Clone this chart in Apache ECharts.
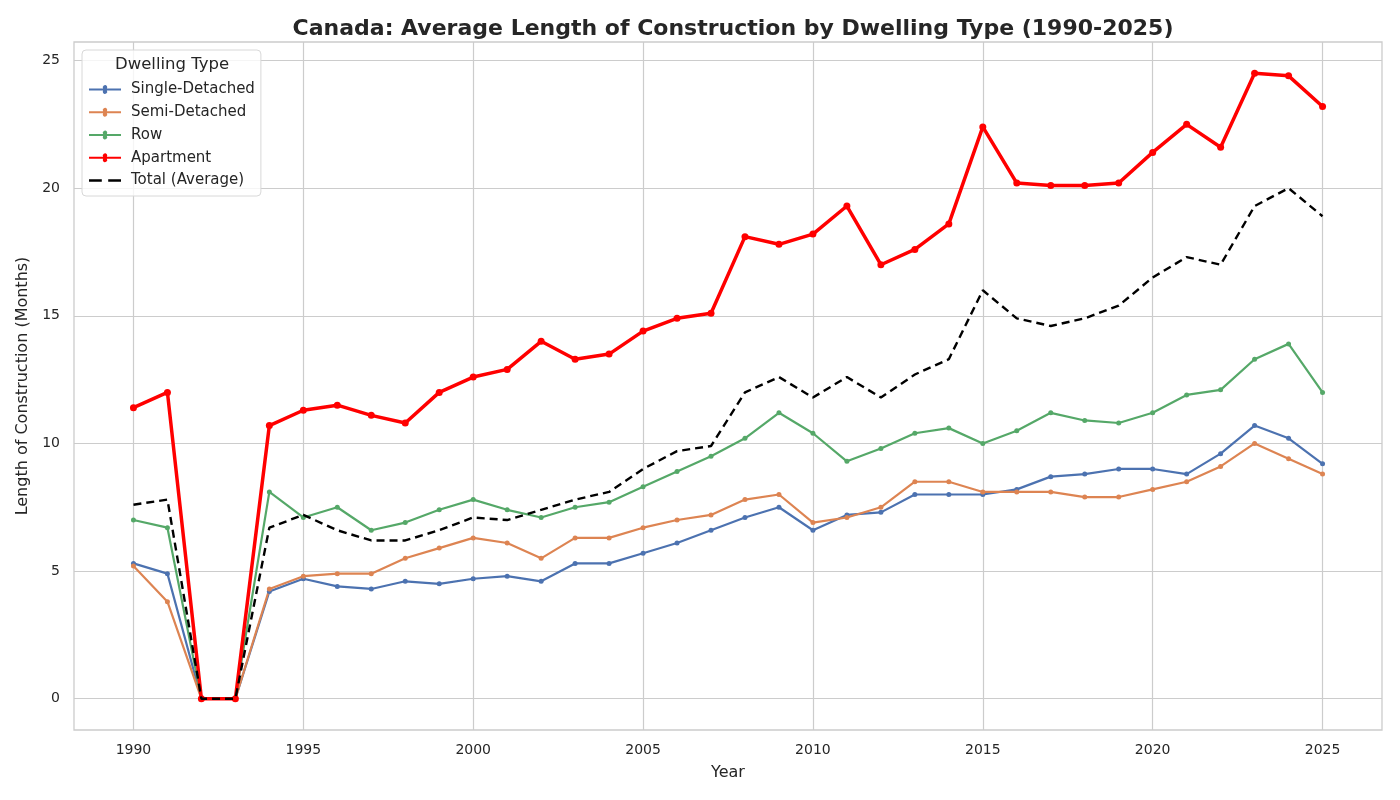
<!DOCTYPE html>
<html>
<head>
<meta charset="utf-8">
<script src="https://cdn.jsdelivr.net/npm/echarts@6/dist/echarts.min.js"></script>
<style>
  html, body { margin: 0; padding: 0; background: #fff; }
  #main { width: 1400px; height: 800px; }
</style>
</head>
<body>
<div id="main"></div>
<script>
var years = [];
for (var y = 1990; y <= 2025; y++) years.push(y);

var singleDetached = [5.3, 4.9, 0, 0, 4.2, 4.7, 4.4, 4.3, 4.6, 4.5, 4.7, 4.8, 4.6, 5.3, 5.3, 5.7, 6.1, 6.6, 7.1, 7.5,
  6.6, 7.2, 7.3, 8.0, 8.0, 8.0, 8.2, 8.7, 8.8, 9.0, 9.0, 8.8, 9.6, 10.7, 10.2, 9.2];
var semiDetached = [5.2, 3.8, 0, 0, 4.3, 4.8, 4.9, 4.9, 5.5, 5.9, 6.3, 6.1, 5.5, 6.3, 6.3, 6.7, 7.0, 7.2, 7.8, 8.0,
  6.9, 7.1, 7.5, 8.5, 8.5, 8.1, 8.1, 8.1, 7.9, 7.9, 8.2, 8.5, 9.1, 10.0, 9.4, 8.8];
var row = [7.0, 6.7, 0, 0, 8.1, 7.1, 7.5, 6.6, 6.9, 7.4, 7.8, 7.4, 7.1, 7.5, 7.7, 8.3, 8.9, 9.5, 10.2, 11.2,
  10.4, 9.3, 9.8, 10.4, 10.6, 10.0, 10.5, 11.2, 10.9, 10.8, 11.2, 11.9, 12.1, 13.3, 13.9, 12.0];
var apartment = [11.4, 12.0, 0, 0, 10.7, 11.3, 11.5, 11.1, 10.8, 12.0, 12.6, 12.9, 14.0, 13.3, 13.5, 14.4, 14.9, 15.1, 18.1, 17.8,
  18.2, 19.3, 17.0, 17.6, 18.6, 22.4, 20.2, 20.1, 20.1, 20.2, 21.4, 22.5, 21.6, 24.5, 24.4, 23.2];
var totalAvg = [7.6, 7.8, 0, 0, 6.7, 7.2, 6.6, 6.2, 6.2, 6.6, 7.1, 7.0, 7.4, 7.8, 8.1, 9.0, 9.7, 9.9, 12.0, 12.6,
  11.8, 12.6, 11.8, 12.7, 13.3, 16.0, 14.9, 14.6, 14.9, 15.4, 16.5, 17.3, 17.0, 19.3, 20.0, 18.9];

var xTicks = [1990, 1995, 2000, 2005, 2010, 2015, 2020, 2025];
var yTicks = [0, 5, 10, 15, 20, 25];

function pairs(vals) {
  return years.map(function (yr, i) { return [yr, vals[i]]; });
}

var FONT = "DejaVu Sans";
var myChart = echarts.init(document.getElementById("main"));

function lineSeries(name, vals, color, width, symSize) {
  return {
    name: name,
    type: "line",
    data: pairs(vals),
    symbol: "circle",
    symbolSize: symSize,
    showSymbol: true,
    lineStyle: { color: color, width: width },
    itemStyle: { color: color },
    emphasis: { disabled: true },
    z: 3
  };
}

// 图例里的小图标：线 + 小圆点
function legendIcon(name, color, dashed) {
  return {
    name: name,
    icon: dashed
      ? "path://M0,4h10v2h-10zM15,4h10v2h-10z"
      : "path://M0,4.2h11.5a1.8,1.8 0 1 1 3,0h11.5v1.6h-11.5a1.8,1.8 0 1 1 -3,0h-11.5z",
    itemStyle: { color: color }
  };
}

myChart.setOption({
  animation: false,
  backgroundColor: "#ffffff",
  title: {
    text: "Canada: Average Length of Construction by Dwelling Type (1990-2025)",
    left: 728,
    top: 13,
    textAlign: "center",
    textStyle: { fontFamily: FONT, fontSize: 22, fontWeight: "bold", color: "#262626" }
  },
  grid: {
    left: 74, right: 18, top: 42, bottom: 70,
    show: true, borderColor: "#cccccc", borderWidth: 1.3, backgroundColor: "#ffffff"
  },
  legend: {
    orient: "vertical",
    left: 82,
    top: 50,
    padding: [32, 6, 8, 7],
    itemGap: 7.75,
    itemWidth: 32,
    itemHeight: 11,
    backgroundColor: "rgba(255,255,255,0.8)",
    borderColor: "#d8d8d8",
    borderWidth: 1,
    borderRadius: 4,
    textStyle: { fontFamily: FONT, fontSize: 15, color: "#262626", padding: [0, 0, 0, 5] },
    data: [
      legendIcon("Single-Detached", "#4c72b0"),
      legendIcon("Semi-Detached", "#dd8452"),
      legendIcon("Row", "#55a868"),
      legendIcon("Apartment", "#ff0000"),
      legendIcon("Total (Average)", "#000000", true)
    ]
  },
  graphic: [{
    type: "text",
    left: 115,
    top: 56,
    z: 100,
    style: { text: "Dwelling Type", fontFamily: FONT, fontSize: 16.5, fill: "#262626" }
  }],
  xAxis: {
    type: "value",
    min: 1988.25,
    max: 2026.75,
    name: "Year",
    nameLocation: "middle",
    nameGap: 35,
    nameTextStyle: { fontFamily: FONT, fontSize: 16, color: "#262626" },
    axisLine: { show: false },
    axisTick: { show: false, customValues: xTicks },
    axisLabel: {
      customValues: xTicks, fontFamily: FONT, fontSize: 14, color: "#262626", margin: 13,
      formatter: function (v) { return String(v); }
    },
    splitLine: { show: true, lineStyle: { color: "#cccccc", width: 1.2 } }
  },
  yAxis: {
    type: "value",
    min: -1.225,
    max: 25.725,
    name: "Length of Construction (Months)",
    nameLocation: "middle",
    nameGap: 37,
    nameTextStyle: { fontFamily: FONT, fontSize: 16, color: "#262626" },
    axisLine: { show: false },
    axisTick: { show: false, customValues: yTicks },
    axisLabel: { customValues: yTicks, fontFamily: FONT, fontSize: 14, color: "#262626", margin: 14 },
    splitLine: { show: true, lineStyle: { color: "#cccccc", width: 1.2 } }
  },
  series: [
    lineSeries("Single-Detached", singleDetached, "#4c72b0", 2.2, 5),
    lineSeries("Semi-Detached", semiDetached, "#dd8452", 2.2, 5),
    lineSeries("Row", row, "#55a868", 2.2, 5),
    lineSeries("Apartment", apartment, "#ff0000", 3.5, 7),
    {
      name: "Total (Average)",
      type: "line",
      data: pairs(totalAvg),
      symbol: "none",
      lineStyle: { color: "#000000", width: 2.4, type: [8, 5] },
      itemStyle: { color: "#000000" },
      emphasis: { disabled: true },
      z: 4
    }
  ]
});
</script>
</body>
</html>
